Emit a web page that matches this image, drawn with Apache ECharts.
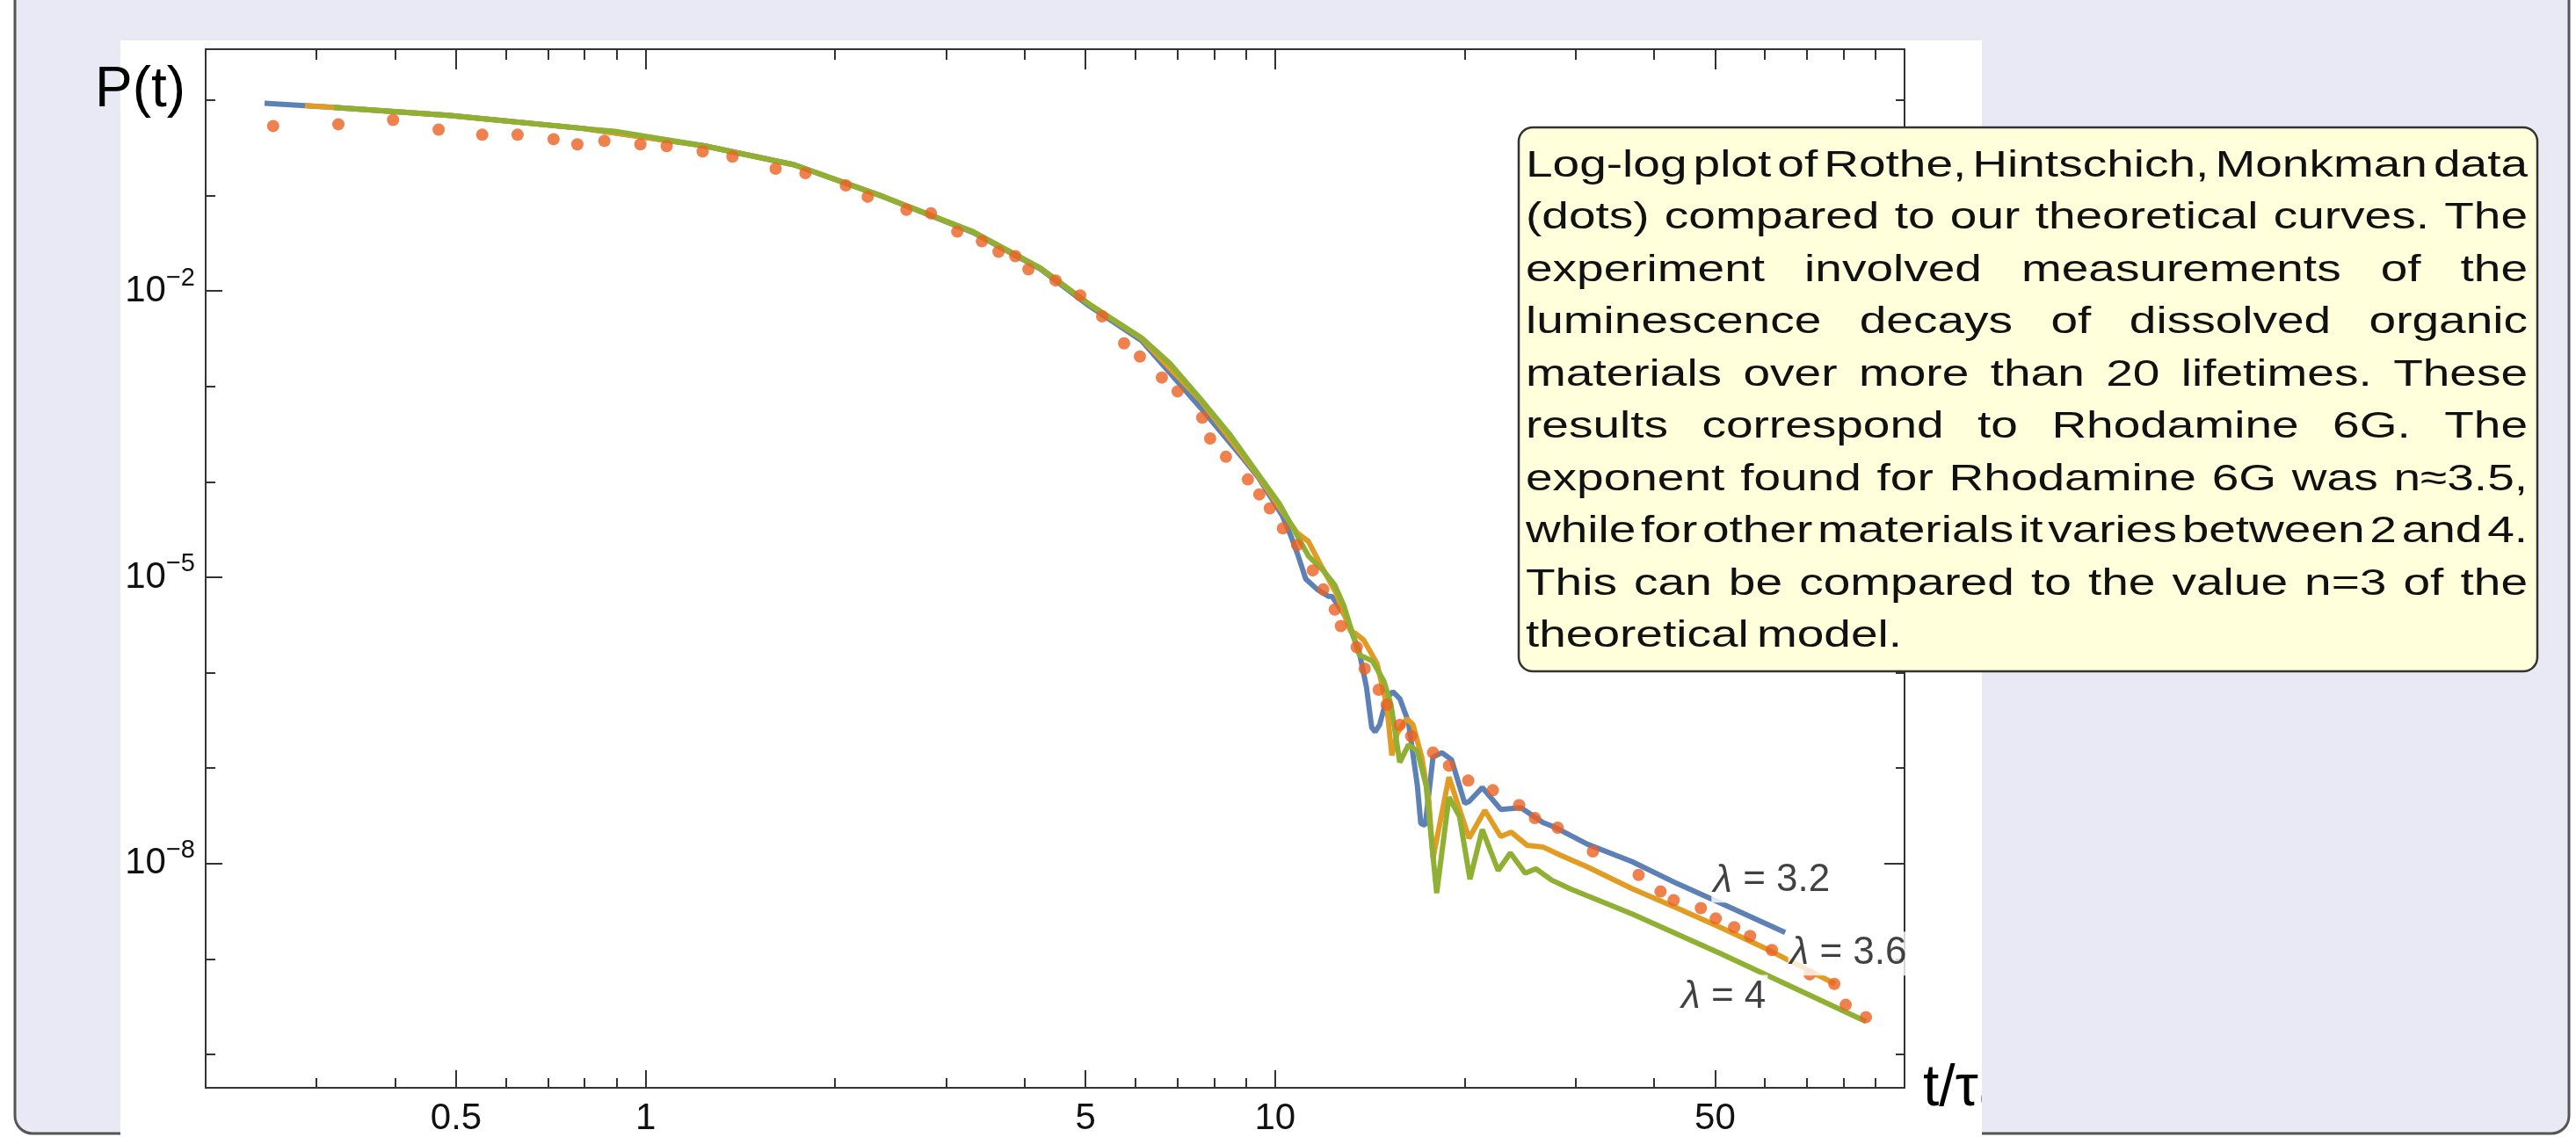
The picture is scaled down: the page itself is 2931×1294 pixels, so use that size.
<!DOCTYPE html>
<html>
<head>
<meta charset="utf-8">
<script src="https://cdn.jsdelivr.net/npm/echarts@6/dist/echarts.min.js"></script>
<style>
html,body{margin:0;padding:0;background:#fff;}
#c{width:2931px;height:1294px;}
</style>
</head>
<body>
<div id="c"></div>
<script>
// ---------- data ----------
const dotsT = [0.256,0.325,0.397,0.469,0.550,0.626,0.714,0.779,0.860,0.981,1.080,1.232,1.374,1.609,1.794,2.080,2.253,2.596,2.840,3.127,3.421,3.636,3.866,4.056,4.480,4.901,5.312,5.756,6.099,6.608,7.001,7.661,7.886,8.354,9.052,9.439,9.809,10.29,10.84,11.48,11.93,12.44,12.72,13.48,13.88,14.61,15.04,15.78,16.45,17.82,18.89,20.27,22.18,24.42,25.87,28.12,31.98,37.80,40.96,42.97,47.47,50.13,53.62,56.84,61.55,70.69,77.34,80.64,86.83];
const dotsP = [0.536,0.559,0.620,0.492,0.434,0.434,0.390,0.344,0.374,0.344,0.330,0.291,0.256,0.191,0.172,0.128,0.0972,0.0709,0.0652,0.0419,0.0332,0.0258,0.0232,0.0169,0.0129,0.0090,0.00543,0.00283,0.00206,0.00124,0.000887,0.000472,0.000285,0.000183,0.000106,7.39e-5,5.28e-5,3.25e-5,2.18e-5,1.18e-5,7.45e-6,4.58e-6,3.08e-6,1.85e-6,1.10e-6,6.61e-7,4.62e-7,2.84e-7,2.16e-7,1.45e-7,1.06e-7,7.40e-8,5.86e-8,4.10e-8,2.99e-8,2.37e-8,1.34e-8,7.60e-9,5.09e-9,4.13e-9,3.41e-9,2.65e-9,2.15e-9,1.74e-9,1.24e-9,6.89e-10,5.47e-10,3.30e-10,2.45e-10];

const blueT = [0.2481,0.3197,0.4857,0.7937,1.240,1.721,2.388,3.313,4.242,5.063,6.137,7.611,8.937,9.408,10.26,10.59,10.84,11.19,11.67,12.16,12.32,12.97,13.61,13.97,14.24,14.42,14.66,15.04,15.38,15.78,16.29,16.83,17.04,17.32,17.82,18.41,19.07,20.01,20.33,21.34,22.83,24.58,26.63,27.94,31.37,36.95,43.53,51.29,64.62];
const blueP = [0.926,0.839,0.694,0.506,0.332,0.2106,0.0972,0.0410,0.01694,0.00699,0.003011,0.000599,0.0001691,0.0001110,4.46e-5,2.73e-5,1.803e-5,9.59e-6,7.44e-6,6.29e-6,6.29e-6,3.79e-6,1.634e-6,7.04e-7,2.67e-7,2.40e-7,2.85e-7,5.35e-7,6.33e-7,5.35e-7,3.03e-7,6.51e-8,2.63e-8,2.52e-8,1.305e-7,1.450e-7,1.225e-7,4.28e-8,4.46e-8,6.25e-8,3.69e-8,3.85e-8,2.69e-8,2.37e-8,1.589e-8,1.042e-8,6.16e-9,3.79e-9,1.893e-9];

const orangeT = [0.2876,0.3197,0.4857,0.7937,1.240,1.721,2.388,3.313,4.242,5.111,6.137,7.611,9.408,10.26,10.84,11.30,11.74,12.52,13.18,13.39,13.83,14.52,15.04,15.33,15.63,16.19,16.56,17.10,17.55,17.82,18.89,20.33,21.54,22.83,23.73,25.13,26.63,28.49,31.37,36.95,43.53,51.29,60.39,77.61];
const orangeP = [0.878,0.839,0.694,0.506,0.332,0.2106,0.0972,0.0415,0.01720,0.00699,0.003173,0.000719,0.0001151,4.95e-5,2.92e-5,2.37e-5,1.46e-5,6.70e-6,2.71e-6,2.60e-6,2.20e-6,1.243e-6,4.62e-7,1.361e-7,2.31e-7,3.30e-7,2.85e-7,1.305e-7,4.56e-8,1.134e-8,8.04e-8,1.842e-8,3.61e-8,1.920e-8,2.13e-8,1.555e-8,1.491e-8,1.208e-8,9.19e-9,5.43e-9,3.41e-9,2.10e-9,1.269e-9,5.47e-10];

const greenT = [0.3197,0.4857,0.7937,0.8938,1.240,1.721,2.388,3.313,4.242,5.111,6.137,6.823,7.611,8.462,9.408,10.16,10.84,11.30,11.93,12.44,12.85,13.61,14.28,14.89,15.28,15.78,16.29,16.83,17.38,18.06,18.89,19.63,20.40,21.34,22.61,23.65,24.97,25.96,27.50,29.42,36.95,51.29,86.83];
const greenP = [0.839,0.694,0.506,0.472,0.332,0.2106,0.0972,0.0419,0.0174,0.00699,0.00323,0.001715,0.000739,0.000318,0.0001192,5.90e-5,2.73e-5,1.669e-5,1.176e-5,8.27e-6,5.10e-6,1.534e-6,1.323e-6,8.16e-7,4.62e-7,1.150e-7,1.753e-7,1.512e-7,6.51e-8,4.89e-9,4.95e-8,3.12e-8,6.84e-9,2.27e-8,8.44e-9,1.287e-8,7.93e-9,8.81e-9,6.70e-9,5.43e-9,2.95e-9,1.118e-9,2.21e-10];

const curveLabelText = ['λ = 3.2', 'λ = 3.6', 'λ = 4'];
const curveLabelT = [61.5, 81.4, 51.6];
const curveLabelP = [6.6e-9, 1.14e-9, 4.0e-10];

const xMajorTicks = [0.5, 1, 5, 10, 50];
const xMinorTicks = [0.3,0.4,0.6,0.7,0.8,0.9,2,3,4,6,7,8,9,20,30,40,60,70,80,90];
const yMajorTicks = [1e-2, 1e-5, 1e-8];
const yMinorTicks = [1e-10,1e-9,1e-8,1e-7,1e-6,1e-5,1e-4,1e-3,1e-2,1e-1,1];

const noteLines = [
  'Log-log plot of Rothe, Hintschich, Monkman data',
  '(dots) compared to our theoretical curves. The',
  'experiment involved measurements of the',
  'luminescence decays of dissolved organic',
  'materials over more than 20 lifetimes. These',
  'results correspond to Rhodamine 6G. The',
  'exponent found for Rhodamine 6G was n\u22483.5,',
  'while for other materials it varies between 2 and 4.',
  'This can be compared to the value n=3 of the',
  'theoretical model.'
];

// ---------- styling ----------
const FONT = '"Liberation Sans", Arial, sans-serif';
const FRAME = '#333333';
const X_MIN = 0.2, X_MAX = 100;
const Y_MIN = 4.46e-11, Y_MAX = 3.42;

const zip = (a, b) => a.map((v, i) => [v, b[i]]);

function fmtX(v) { return v < 1 ? (+v).toFixed(1) : String(Math.round(v)); }
function fmtY(v) { const e = Math.round(Math.log10(v)); return '{a|10}{b|\u2212' + Math.abs(e) + '}'; }

function xAx(pos, ticks, len, showLine, labels) {
  return {
    type: 'log', logBase: 10, min: X_MIN, max: X_MAX, position: pos,
    axisLine: { show: showLine, onZero: false, lineStyle: { color: FRAME, width: 2 } },
    axisTick: { show: true, inside: true, length: len, customValues: ticks, lineStyle: { color: FRAME, width: 2 } },
    axisLabel: labels ? { show: true, customValues: ticks, formatter: fmtX, fontSize: 42, color: '#111', margin: 14, fontFamily: FONT } : { show: false },
    splitLine: { show: false }, minorTick: { show: false }
  };
}
function yAx(pos, ticks, len, showLine, labels) {
  return {
    type: 'log', logBase: 10, min: Y_MIN, max: Y_MAX, position: pos,
    axisLine: { show: showLine, onZero: false, lineStyle: { color: FRAME, width: 2 } },
    axisTick: { show: true, inside: true, length: len, customValues: ticks, lineStyle: { color: FRAME, width: 2 } },
    axisLabel: labels ? {
      show: true, customValues: ticks, formatter: fmtY, margin: 12, color: '#111',
      rich: {
        a: { fontSize: 42, lineHeight: 58, fontFamily: FONT, color: '#111' },
        b: { fontSize: 29, lineHeight: 29, verticalAlign: 'top', fontFamily: FONT, color: '#111' }
      }
    } : { show: false },
    splitLine: { show: false }, minorTick: { show: false }
  };
}

// ---------- annotation text (justified lines) ----------
const FS = 43, EM_X = 55, LINE0 = 189, PITCH = 59.5, TEXT_LEFT = 1736, TEXT_W = 1140;
const mctx = document.createElement('canvas').getContext('2d');
mctx.font = FS + 'px ' + FONT;
const spaceW = mctx.measureText(' ').width;
const lineInfo = noteLines.map(l => {
  const words = l.split(' ');
  const ws = words.map(w => mctx.measureText(w).width);
  const sum = ws.reduce((a, b) => a + b, 0);
  return { words, ws, sum };
});
const maxSum = Math.max(...lineInfo.map(o => o.sum + 0.08 * FS * (o.words.length - 1)));
const sx = Math.min(EM_X / FS, TEXT_W / maxSum);
const noteChildren = lineInfo.map((o, i) => {
  const last = i === lineInfo.length - 1;
  const gap = last ? spaceW * 0.6 : (TEXT_W / sx - o.sum) / (o.words.length - 1);
  let x = 0;
  const kids = o.words.map((w, k) => {
    const el = { type: 'text', z: 22, x: x, y: 0, style: { text: w, fontSize: FS, fontFamily: FONT, fill: '#111', align: 'left', textAlign: 'left', verticalAlign: 'middle', textVerticalAlign: 'middle' } };
    x += o.ws[k] + gap;
    return el;
  });
  return { type: 'group', x: TEXT_LEFT, y: LINE0 + PITCH * i, scaleX: sx, z: 22, children: kids };
});

const chart = echarts.init(document.getElementById('c'), null, { renderer: 'canvas' });
chart.setOption({
  animation: false,
  backgroundColor: '#ffffff',
  textStyle: { fontFamily: FONT },
  grid: { left: 234, right: 764, top: 56, bottom: 48, containLabel: false },
  xAxis: [
    xAx('bottom', xMinorTicks, 11, true, false),
    xAx('bottom', xMajorTicks, 20, false, true),
    xAx('top', xMinorTicks, 12, true, false),
    xAx('top', xMajorTicks, 23, false, false)
  ],
  yAxis: [
    yAx('left', yMinorTicks, 11, true, false),
    yAx('left', yMajorTicks, 19, false, true),
    yAx('right', yMinorTicks, 10, true, false),
    yAx('right', yMajorTicks, 23, false, false)
  ],
  series: [
    { name: 'λ = 3.2', type: 'line', data: zip(blueT, blueP), showSymbol: false, symbol: 'none', lineStyle: { width: 6, color: '#5E81B5' }, itemStyle: { color: '#5E81B5' }, z: 2 },
    { name: 'λ = 3.6', type: 'line', data: zip(orangeT, orangeP), showSymbol: false, symbol: 'none', lineStyle: { width: 6, color: '#E19C24' }, itemStyle: { color: '#E19C24' }, z: 3 },
    { name: 'λ = 4', type: 'line', data: zip(greenT, greenP), showSymbol: false, symbol: 'none', lineStyle: { width: 6, color: '#8FB032' }, itemStyle: { color: '#8FB032' }, z: 4 },
    { name: 'data', type: 'scatter', data: zip(dotsT, dotsP), symbol: 'circle', symbolSize: 14, itemStyle: { color: '#EB6123' }, z: 5 },
    {
      name: 'labels', type: 'scatter', z: 6, symbol: 'circle', symbolSize: 1,
      itemStyle: { color: 'rgba(0,0,0,0)' },
      data: curveLabelText.map((s, i) => ({ name: s, value: [curveLabelT[i], curveLabelP[i]] })),
      label: {
        show: true, position: 'inside', backgroundColor: '#ffffff', padding: [3, 2],
        formatter: p => '{l|λ}{v|' + p.name.replace('λ', '') + '}',
        rich: {
          l: { fontSize: 44, fontStyle: 'italic', fontFamily: FONT, color: '#111' },
          v: { fontSize: 44, fontFamily: FONT, color: '#111' }
        }
      }
    }
  ],
  graphic: [
    { type: 'rect', z: -10, shape: { x: 17, y: -60, width: 2906, height: 1350, r: 20 }, style: { fill: '#e9e9f5', stroke: '#555555', lineWidth: 3 } },
    { type: 'rect', z: -9, shape: { x: 137, y: 46, width: 2118, height: 1260 }, style: { fill: '#ffffff' } },
    { type: 'text', z: 5, x: 108, y: 103, style: { text: 'P(t)', fontSize: 64, fontFamily: FONT, fill: '#000', align: 'left', textAlign: 'left', verticalAlign: 'middle', textVerticalAlign: 'middle' } },
    { type: 'text', z: 5, x: 2188, y: 1240, style: { text: 't/\u03c4\u2080', fontSize: 66, fontFamily: FONT, fill: '#000', align: 'left', textAlign: 'left', verticalAlign: 'middle', textVerticalAlign: 'middle' } },
    { type: 'rect', z: 6, shape: { x: 2255, y: 1170, width: 120, height: 112 }, style: { fill: '#e9e9f5' } },
    { type: 'rect', z: 20, shape: { x: 1728, y: 145, width: 1159, height: 619, r: 16 }, style: { fill: '#ffffdc', stroke: '#333333', lineWidth: 2.5 } }
  ].concat(noteChildren)
});
</script>
</body>
</html>
